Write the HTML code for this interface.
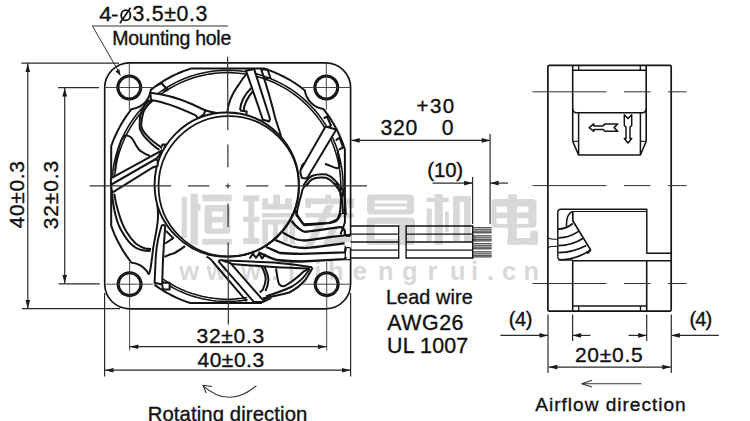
<!DOCTYPE html>
<html><head><meta charset="utf-8"><style>
html,body{margin:0;padding:0;background:#fff;width:750px;height:421px;overflow:hidden}
svg{display:block}
text{font-family:"Liberation Sans",sans-serif}
</style></head><body>
<svg width="750" height="421" viewBox="0 0 750 421">
<rect width="750" height="421" fill="#fff"/>
<rect x="104.7" y="62.9" width="245.9" height="245.9" rx="24.8" ry="24.8" fill="none" stroke="#141414" stroke-width="1.65"/>
<path d="M342.7,143.08 L341.61,140.27 L339.86,136.1 L337.95,131.99 L335.89,127.97 L333.68,124.02 L331.33,120.15 L329.69,117.62 L327.11,113.91 L323.28,108.89 L321.57,108.58 L320.03,108.17 L318.53,107.65 L316.59,106.79 L314.74,105.75 L313.43,104.85 L311.79,103.5 L310.66,102.39 L309.6,101.2 L308.64,99.94 L307.51,98.15 L306.77,96.74 L306.15,95.27 L305.63,93.77 L305.22,92.23 L304.9,90.44 L300.71,87.19 L295.78,83.71 L290.68,80.49 L285.43,77.51 L280.05,74.8 L274.53,72.36 L268.9,70.18 L264.62,68.74 L264.17,68.6 L190.83,68.6 L186.1,70.18 L181.87,71.79 L177.7,73.54 L173.59,75.45 L169.57,77.51 L165.62,79.72 L161.75,82.07 L157.97,84.56 L154.29,87.19 L150.76,89.9 L150.48,91.71 L149.97,93.77 L149.26,95.77 L148.59,97.21 L147.83,98.6 L146.65,100.37 L145.66,101.61 L144.19,103.14 L143,104.2 L141.3,105.46 L139.95,106.29 L138.54,107.03 L136.58,107.84 L135.06,108.32 L133.51,108.68 L131.66,108.97 L129.69,111.48 L127.02,115.13 L124.48,118.88 L121.32,124.02 L119.11,127.97 L117.05,131.99 L114.54,137.48 L112.84,141.67 L111.2,146.17 L111.2,225.63 L112.84,230.13 L114.54,234.32 L117.05,239.81 L119.11,243.83 L121.32,247.78 L124.48,252.92 L127.02,256.67 L130.61,261.51 L131.54,262.69 L134.33,263.12 L136.88,263.86 L139.31,264.91 L140.7,265.67 L142.04,266.54 L144.11,268.2 L145.96,270.09 L147.56,272.2 L148.88,274.46 M154.4,284.69 L159.22,288.09 L163.03,290.53 L166.92,292.83 L170.9,294.99 L176.32,297.64 L180.47,299.44 L184.68,301.1 L190.19,303 L261.96,303 M340.46,234.32 L342.7,228.72 L344.9,222.25 L344.9,149.55 L342.7,143.08" fill="none" stroke="#141414" stroke-width="2.0" stroke-linejoin="round" />
<path d="M343.09,184.48 L342.88,178.81 L342.4,173.16 L341.63,167.54 L340.59,161.96 L339.28,156.44 L337.7,150.99 L335.86,145.62 L333.75,140.35 L332.6,137.76 L330.76,133.92 L328.08,128.92 L325.17,124.05 L322.01,119.34 L318.63,114.78 L315.03,110.39 L311.22,106.19 L307.21,102.18 L303.01,98.37 L298.62,94.77 L294.06,91.39 L289.35,88.23 L284.48,85.32 L279.48,82.64 L274.35,80.22 L269.1,78.05 L263.76,76.13 L261.06,75.28 L256.96,74.12 L251.44,72.81 L245.86,71.77 L240.24,71 L234.59,70.52 L228.92,70.31 L223.25,70.38 L217.58,70.73 L211.94,71.35 L206.34,72.25 L200.79,73.43 L195.3,74.87 L189.89,76.59 L184.58,78.56 L179.36,80.8 L175.52,82.64 L173.01,83.95 L168.07,86.75 L163.28,89.78 L158.64,93.05 L154.16,96.54 L149.87,100.25 L145.76,104.16 L141.85,108.27 L138.14,112.56 L134.65,117.04 L131.38,121.68 L129.08,125.26 L127.62,127.69 L124.89,132.66 L122.4,137.76 L120.16,142.98 L118.19,148.29 L116.47,153.7 L115.03,159.19 L113.85,164.74 L112.9,170.74 L112.9,191.9 M161.37,280.71 L165.65,283.57 L170.52,286.48 L175.52,289.16 L180.65,291.58 L185.9,293.75 L191.24,295.67 L196.67,297.31 L202.17,298.69 L206.34,299.55 L211.94,300.45 L216.17,300.94 L220.73,301.3 L234.59,301.28 L237.42,301.07 L241.65,300.63 L247.56,299.74 M342.57,196.97 L343.02,190.15 L343.09,184.48" fill="none" stroke="#141414" stroke-width="1.55" stroke-linejoin="round" />
<path d="M340.79,184.51 L340.59,178.95 L340.11,173.41 L339.36,167.9 L338.34,162.43 L337.06,157.02 L335.51,151.68 L333.7,146.42 L331.64,141.26 L330.51,138.72 L328.7,134.96 L326.08,130.05 L323.22,125.28 L320.13,120.66 L316.82,116.19 L313.29,111.9 L309.56,107.78 L305.62,103.84 L301.5,100.11 L297.21,96.58 L292.74,93.27 L288.12,90.18 L283.35,87.32 L278.44,84.7 L273.41,82.32 L268.28,80.19 L263.04,78.32 L257.72,76.7 L252.32,75.35 L246.87,74.27 L241.37,73.45 L235.83,72.91 L230.28,72.63 L227.5,72.6 L223.33,72.68 L217.78,73.02 L212.25,73.63 L206.76,74.51 L201.32,75.67 L195.94,77.08 L190.64,78.76 L185.43,80.7 L180.32,82.89 L175.32,85.33 L170.45,88.01 L165.71,90.93 L162.26,93.27 L160.01,94.9 L155.62,98.32 L151.41,101.95 L147.38,105.78 L143.55,109.81 L139.92,114.02 L136.5,118.41 L133.29,122.95 L131.04,126.46 L129.61,128.85 L126.93,133.72 L124.49,138.72 L122.3,143.83 L120.36,149.04 L118.68,154.34 L117.94,157.02 L116.95,161.08 L115.87,166.53 L115.05,172.03 L114.9,173.33 L114.9,191.79 M162.69,278.83 L166.88,281.62 L171.65,284.48 L176.56,287.1 L181.59,289.48 L186.72,291.61 L191.96,293.48 L197.28,295.1 L202.68,296.45 L208.13,297.53 L213.63,298.35 L219.17,298.89 L224.72,299.17 L230.28,299.17 L235.83,298.89 L241.37,298.35 L247.16,297.48 M340.28,196.75 L340.72,190.07 L340.79,184.51" fill="none" stroke="#141414" stroke-width="1.55" stroke-linejoin="round" />
<path d="M126.3,135.3 C129,136 131,137 131.7,138 C133.5,140.5 134.7,142.5 135.7,144.7 C137.5,148 139,150 141,151.3 C144,153.5 147,155 150,156" fill="none" stroke="#141414" stroke-width="2.0" stroke-linejoin="round" />
<path d="M126.3,135.3 C123.5,136 122,138.5 121,141 C119,146.5 117.5,153 116.5,158 C115.8,163 115.4,167 115.2,171" fill="none" stroke="#141414" stroke-width="2.0" stroke-linejoin="round" />
<path d="M149,100.3 C146,103 143.5,106.5 142.4,109.2 C140.8,113 139.8,116.5 139.8,119.6 C139.6,123 139.6,126 139.8,128.8 C141,131.5 142.5,134.3 144.4,136.6 C147,139.5 149.5,142 152.2,144.4 C154.5,146.5 157,148.3 159.4,149.9" fill="none" stroke="#141414" stroke-width="2.0" stroke-linejoin="round" />
<path d="M151.5,100.6 C148,104.5 144.3,108.5 143.1,113.1 C142,117.5 141.3,122 141.1,126.1 C141.8,128.5 143,130.8 144.4,132.7 C147,136 150,139 153.5,141.8 C156,143.8 158.5,145.6 161.4,147.3" fill="none" stroke="#141414" stroke-width="2.0" stroke-linejoin="round" />
<path d="M160.7,148.5 L162.5,144.6 L165.3,144.4 L164.5,148.5" fill="none" stroke="#141414" stroke-width="2.0" stroke-linejoin="round" />
<path d="M204,110 C208.5,111.3 213,112.3 218,113.3" fill="none" stroke="#141414" stroke-width="2.0" stroke-linejoin="round" />
<path d="M227.3,112.7 C228,105 231,95 238.7,84.7 C241,81 243,78 246,74.7" fill="none" stroke="#141414" stroke-width="2.0" stroke-linejoin="round" />
<path d="M240,110 C240.5,104 243,96 251.3,88" fill="none" stroke="#141414" stroke-width="2.0" stroke-linejoin="round" />
<path d="M243.5,111 C244,105 246,99 253.5,90.5" fill="none" stroke="#141414" stroke-width="2.0" stroke-linejoin="round" />
<path d="M240,110.5 L246.7,111.5 L246.5,114" fill="none" stroke="#141414" stroke-width="2.0" stroke-linejoin="round" />
<path d="M261.1,68.9 C266,84 271,100 275.2,118 C278,126 280.5,134 282.3,141" fill="none" stroke="#141414" stroke-width="2.0" stroke-linejoin="round" />
<path d="M301,169.7 C301.5,166 302.5,164.5 303.7,163.7 C305,162.5 307,162.3 309,162.3" fill="none" stroke="#141414" stroke-width="2.0" stroke-linejoin="round" />
<path d="M325,163.7 C330,165.5 334,167.5 337,168.3 L339.7,167 L337.7,149.7" fill="none" stroke="#141414" stroke-width="2.0" stroke-linejoin="round" />
<path d="M309,183 C304,186 301.7,189 301.7,193 L299.7,200.3 C298.5,205 297,210 296.3,215 L303.7,224.3 L327.7,223 C333,222.5 336,221.5 337,220.3 C339,216 340.3,212 340.3,209.7 C341,203 341,199 341,196.3 C340,190 338,186 335.7,183" fill="none" stroke="#141414" stroke-width="2.0" stroke-linejoin="round" />
<path d="M303,186.5 C306,181 309,177 312.5,175.8 C317,174.3 322,174 326.8,174.6 C330.5,176 333.5,178.5 336.3,181.8 C339.5,185.5 341.8,188.5 343.4,191.3 C344.8,197 345.5,205 345.8,215" fill="none" stroke="#141414" stroke-width="2.0" stroke-linejoin="round" />
<path d="M306,186.5 C308.5,182 311,179.5 314,178.5 C318,177.3 322,177.2 326,177.8 C329.5,179 332,181 334.5,184 C337.5,187.5 339.6,190.5 341,193.5 C342.2,199 342.8,206 343,214" fill="none" stroke="#141414" stroke-width="2.0" stroke-linejoin="round" />
<path d="M112,193.9 C112.5,200 113.5,206 114.7,211.7 C116.5,220 118.5,226 121.8,231.3 C124.5,236 127,240 130.7,243.8 C134,247 137.5,249.2 141.4,250 C144.5,250.6 147.5,250.9 150.5,250.9" fill="none" stroke="#141414" stroke-width="2.0" stroke-linejoin="round" />
<path d="M114.2,193.6 C115.2,200 116.5,206 118.3,211.7 C120.3,219 122.8,225.5 126.3,231.5 C129,236 132.5,240.5 136,243.8 C139.5,246.5 142.5,247.8 145.5,248.5 C147.5,248.9 149.5,249 151,249" fill="none" stroke="#141414" stroke-width="2.0" stroke-linejoin="round" />
<path d="M157.3,204 C158.2,211 158.2,217 157.6,222.5 C156.8,229 155.8,234.5 154.9,238.6 C153.8,244 152.8,250 152.2,256.4 C151.5,262 151,266 150.5,268.5 C150,271 149.5,273 148.8,274.5" fill="none" stroke="#141414" stroke-width="2.0" stroke-linejoin="round" />
<path d="M166.1,231 L173.3,238.1 L165.2,243.5" fill="none" stroke="#141414" stroke-width="2.0" stroke-linejoin="round" />
<path d="M164.4,256.8 C168,255 171,254 174.1,253.3 C178,251 182,248.5 185,246.1" fill="none" stroke="#141414" stroke-width="2.0" stroke-linejoin="round" />
<path d="M206.6,256.6 C210,258.5 212,260 213,262 L246.7,301.3" fill="none" stroke="#141414" stroke-width="2.0" stroke-linejoin="round" />
<path d="M219.4,261.1 C221,260.5 222.5,260.4 223.8,260.4 C240,261 258,261.8 273.7,262.6 C288,263.8 300,265.3 312.2,267.2" fill="none" stroke="#141414" stroke-width="2.0" stroke-linejoin="round" />
<path d="M231.1,264.1 C245,265 260,266 273.7,267 C288,267.8 300,268.2 310,268.5" fill="none" stroke="#141414" stroke-width="2.0" stroke-linejoin="round" />
<path d="M276,268.3 C277,274 277.5,280 278.9,283.7 C280,285.5 282,286.5 284.8,286 C292,282 299,276 303.9,271.3 L309.7,268.3" fill="none" stroke="#141414" stroke-width="2.0" stroke-linejoin="round" />
<path d="M262.8,298.4 C272,296.5 281,295 289.2,292.5 C296,289 301,285 305.3,280 C308,276 310.5,272 312.7,267.6" fill="none" stroke="#141414" stroke-width="2.0" stroke-linejoin="round" />
<path d="M266,296.2 C275,293.5 284,290.5 292,286.5 C298,283 303,278.5 306.5,273.5 C308,271.5 309,270 310,268.6" fill="none" stroke="#141414" stroke-width="2.0" stroke-linejoin="round" />
<path d="M261.3,266.1 C263.5,270 265.7,275 265.7,279.3 C265.5,284 264,287 262.8,289.6 L259.9,292.5" fill="none" stroke="#141414" stroke-width="2.0" stroke-linejoin="round" />
<path d="M264.3,266.5 C266.5,271 268.4,276 268.4,280 C268.2,285 267,288 265.5,291" fill="none" stroke="#141414" stroke-width="2.0" stroke-linejoin="round" />
<path d="M249.6,258.5 L253,253.8 L256,257.8 L259,253.7 L262,258.5 L265.7,254" fill="none" stroke="#141414" stroke-width="2.0" stroke-linejoin="round" />
<path d="M155.7,86.2 L161.5,83.2 L167.7,89.8 L163.5,91.5" fill="none" stroke="#141414" stroke-width="2.0" stroke-linejoin="round" />
<path d="M261.3,69.5 L267.5,69.5 L270.5,78 L265,78.5" fill="none" stroke="#141414" stroke-width="2.0" stroke-linejoin="round" />
<path d="M323.7,118.3 L327,116.5 L331,125.5 L327.7,127.7" fill="none" stroke="#141414" stroke-width="2.0" stroke-linejoin="round" />
<path d="M335.7,140.3 L339.7,137.7 L343,147.5 L339,149.7" fill="none" stroke="#141414" stroke-width="2.0" stroke-linejoin="round" />
<circle cx="226.75" cy="184.65" r="72.15" fill="#fff" stroke="#141414" stroke-width="1.95"/>
<circle cx="228.75" cy="186.2" r="70.2" fill="none" stroke="#141414" stroke-width="1.75"/>
<path d="M150.3,92.7 C164,94 178,98 191.7,104 L205.5,110.5 L203.7,114.5 L198,118.3 L195.7,115.3 C182,109 166,102 151,100 Z" fill="#fff" stroke="#141414" stroke-width="2.0" stroke-linejoin="round" />
<path d="M246,70.7 L254.1,68.9 L269.9,118.5 L269.2,121.5 L262.3,119.5 L262.3,118 Z" fill="#fff" stroke="#141414" stroke-width="2.0" stroke-linejoin="round" />
<path d="M325.6,126.6 L336.3,129.5 L307.8,177 L306.5,178.6 L302,178 L300.3,173 L300.6,170 Z" fill="#fff" stroke="#141414" stroke-width="2.0" stroke-linejoin="round" />
<path d="M110.9,178.3 L162.5,150.2 L157.5,157.5 L155.3,159.4 L110.9,184.8 Z" fill="#fff" stroke="#141414" stroke-width="2.0" stroke-linejoin="round" />
<path d="M110.9,184.8 L155.3,159.4 L157.9,160.5 L157.5,166 L153.3,167.2 L112.2,192.7 Z" fill="#fff" stroke="#141414" stroke-width="2.0" stroke-linejoin="round" />
<path d="M161.7,225.7 C162.5,224.5 164.5,224.5 165.2,226.6 C164.3,238 163.5,250 162.9,262 L162.2,282.8 L169.6,282.8 L169.6,289.4 L163,289.4 L162.1,284.4 L154.6,282.8 L155.5,262 C156,250 157.5,238 161.7,225.7 Z" fill="#fff" stroke="#141414" stroke-width="2.0" stroke-linejoin="round" />
<path d="M218.8,261.7 C219,260 221,259.8 222,260.3 L230.5,263.2 L262.8,299.9 L270.1,296 L270.5,298.4 L262.8,302.1 L254,302.1 Z" fill="#fff" stroke="#141414" stroke-width="2.0" stroke-linejoin="round" />
<path d="M295.7,210 L296.7,214.3 C299,218 301.5,222 304.2,225 C312,224.5 322,223.8 329.9,222.8 C333,221.5 336,220.5 338.4,218.6 L341,213" fill="none" stroke="#141414" stroke-width="2.3" stroke-linejoin="round" />
<path d="M291.4,220.7 C294,224 297,227.5 300,229.3 C302,230.8 303.5,231.9 305.3,231.9 C318,230.5 330,228.5 339.5,227.1 C342,227 344,228 344.9,231.4 L344.9,236" fill="none" stroke="#141414" stroke-width="2.3" stroke-linejoin="round" />
<path d="M282.8,232.5 C287,235 292,238 297,239.5 C300,240.3 302.5,240.5 305.3,240.5 C320,239 333,236 350.5,234.8" fill="none" stroke="#141414" stroke-width="2.3" stroke-linejoin="round" />
<path d="M275.3,240 C280,242 285,244.5 292,246.5 C297,247.6 301,248 305.3,248 C320,247 333,244.5 350.5,242.6" fill="none" stroke="#141414" stroke-width="2.3" stroke-linejoin="round" />
<path d="M266,247 C271,249 276,251.5 279.9,253 C286,253.6 293,253.8 301.3,253.8 C318,253.3 332,252.8 344.3,252.3 C345.5,251.5 345.8,249 345.8,246.1" fill="none" stroke="#141414" stroke-width="2.3" stroke-linejoin="round" />
<path d="M258.4,252.3 C264,255 270,258 276.8,260 C285,261 293,261.5 301.3,261.5 C318,260.8 332,260 344.3,259.2 C345.5,258.5 345.8,257.5 345.8,256.9" fill="none" stroke="#141414" stroke-width="2.3" stroke-linejoin="round" />
<rect x="344.6" y="236" width="6.6" height="12" fill="#fff"/>
<line x1="345.3" y1="236.2" x2="350.5" y2="236.2" stroke="#141414" stroke-width="1.2" />
<line x1="345.3" y1="247.6" x2="350.5" y2="247.6" stroke="#141414" stroke-width="1.2" />
<line x1="345.3" y1="245.8" x2="345.3" y2="259.7" stroke="#141414" stroke-width="1.3" />
<line x1="345.3" y1="259.7" x2="350.5" y2="259.7" stroke="#141414" stroke-width="1.2" />
<circle cx="129.3" cy="87.5" r="12.05" fill="none" stroke="#141414" stroke-width="1.85"/>
<circle cx="129.3" cy="87.5" r="10.7" fill="none" stroke="#141414" stroke-width="1.6"/>
<circle cx="326.3" cy="87.5" r="12.05" fill="none" stroke="#141414" stroke-width="1.85"/>
<circle cx="326.3" cy="87.5" r="10.7" fill="none" stroke="#141414" stroke-width="1.6"/>
<circle cx="129.6" cy="284.2" r="12.05" fill="none" stroke="#141414" stroke-width="1.85"/>
<circle cx="129.6" cy="284.2" r="10.7" fill="none" stroke="#141414" stroke-width="1.6"/>
<circle cx="326.7" cy="284.2" r="12.05" fill="none" stroke="#141414" stroke-width="1.85"/>
<circle cx="326.7" cy="284.2" r="10.7" fill="none" stroke="#141414" stroke-width="1.6"/>
<line x1="227.6" y1="56.7" x2="227.82" y2="130" stroke="#333" stroke-width="1.2" />
<line x1="227.86" y1="144.4" x2="227.93" y2="167.2" stroke="#333" stroke-width="1.2" />
<line x1="228.04" y1="203.5" x2="228.11" y2="227" stroke="#333" stroke-width="1.2" />
<line x1="228.15" y1="242.5" x2="228.4" y2="324.6" stroke="#333" stroke-width="1.2" />
<line x1="89.6" y1="185.9" x2="171.3" y2="185.9" stroke="#333" stroke-width="1.2" />
<line x1="187.8" y1="185.9" x2="209.4" y2="185.9" stroke="#333" stroke-width="1.2" />
<line x1="246" y1="185.9" x2="268.4" y2="185.9" stroke="#333" stroke-width="1.2" />
<line x1="285" y1="185.9" x2="367" y2="185.9" stroke="#333" stroke-width="1.2" />
<line x1="225.4" y1="185.9" x2="230.4" y2="185.9" stroke="#333" stroke-width="1.2" />
<line x1="227.9" y1="183.4" x2="227.9" y2="188.4" stroke="#333" stroke-width="1.2" />
<line x1="105.8" y1="87.5" x2="152.8" y2="87.5" stroke="#333" stroke-width="0.9" />
<line x1="129.3" y1="63" x2="129.3" y2="110" stroke="#333" stroke-width="0.9" />
<line x1="302.8" y1="87.5" x2="349.8" y2="87.5" stroke="#333" stroke-width="0.9" />
<line x1="326.3" y1="63" x2="326.3" y2="110" stroke="#333" stroke-width="0.9" />
<line x1="106.1" y1="284.2" x2="153.1" y2="284.2" stroke="#333" stroke-width="0.9" />
<line x1="129.6" y1="262" x2="129.6" y2="350.5" stroke="#333" stroke-width="0.9" />
<line x1="303.2" y1="284.2" x2="350.2" y2="284.2" stroke="#333" stroke-width="0.9" />
<line x1="326.7" y1="262" x2="326.7" y2="350.5" stroke="#333" stroke-width="0.9" />
<line x1="21.4" y1="63.2" x2="119" y2="63.2" stroke="#2a2a2a" stroke-width="1.2" />
<line x1="58" y1="87.7" x2="99" y2="87.7" stroke="#2a2a2a" stroke-width="1.2" />
<line x1="58.6" y1="283.8" x2="99.6" y2="283.8" stroke="#2a2a2a" stroke-width="1.2" />
<line x1="22" y1="308.6" x2="120" y2="308.6" stroke="#2a2a2a" stroke-width="1.2" />
<line x1="27.8" y1="63.2" x2="27.8" y2="308.6" stroke="#2a2a2a" stroke-width="1.2" />
<path d="M27.8,63.4 L30.1,71.9 L25.5,71.9Z" fill="#1a1a1a"/>
<path d="M27.8,308.4 L25.5,299.9 L30.1,299.9Z" fill="#1a1a1a"/>
<line x1="64.7" y1="87.7" x2="64.7" y2="283.8" stroke="#2a2a2a" stroke-width="1.2" />
<path d="M64.7,87.9 L67,96.4 L62.4,96.4Z" fill="#1a1a1a"/>
<path d="M64.7,283.6 L62.4,275.1 L67,275.1Z" fill="#1a1a1a"/>
<line x1="104.6" y1="293" x2="104.6" y2="376.5" stroke="#2a2a2a" stroke-width="1.2" />
<line x1="350.6" y1="293" x2="350.6" y2="376.5" stroke="#2a2a2a" stroke-width="1.2" />
<line x1="105" y1="370.2" x2="350.5" y2="370.2" stroke="#2a2a2a" stroke-width="1.2" />
<path d="M105,370.2 L113.5,367.9 L113.5,372.5Z" fill="#1a1a1a"/>
<path d="M350.5,370.2 L342,372.5 L342,367.9Z" fill="#1a1a1a"/>
<line x1="129.6" y1="346.7" x2="326.7" y2="346.7" stroke="#2a2a2a" stroke-width="1.2" />
<path d="M129.8,346.7 L138.3,344.4 L138.3,349Z" fill="#1a1a1a"/>
<path d="M326.5,346.7 L318,349 L318,344.4Z" fill="#1a1a1a"/>
<path d="M256.4,385.6 Q229,409 202.9,385.6" fill="none" stroke="#333" stroke-width="1.1" stroke-linejoin="round" />
<path d="M212,386.5 L202.9,385.3 L206.2,393" fill="none" stroke="#333" stroke-width="1.1" stroke-linejoin="round" />
<line x1="92" y1="26" x2="228" y2="26" stroke="#333" stroke-width="1.1" />
<line x1="92.5" y1="26.2" x2="119.5" y2="73" stroke="#333" stroke-width="1.0" />
<path d="M120.8,76.2 L115.4,71.23 L119.22,69.03Z" fill="#1a1a1a"/>
<line x1="350.5" y1="226" x2="398.7" y2="226" stroke="#141414" stroke-width="1.4" />
<line x1="406.1" y1="226" x2="472.7" y2="226" stroke="#141414" stroke-width="1.4" />
<line x1="350.5" y1="234.1" x2="398.7" y2="234.1" stroke="#141414" stroke-width="1.4" />
<line x1="406.1" y1="234.1" x2="472.7" y2="234.1" stroke="#141414" stroke-width="1.4" />
<line x1="350.5" y1="242" x2="398.7" y2="242" stroke="#141414" stroke-width="1.4" />
<line x1="406.1" y1="242" x2="472.7" y2="242" stroke="#141414" stroke-width="1.4" />
<line x1="350.5" y1="250.1" x2="398.7" y2="250.1" stroke="#141414" stroke-width="1.4" />
<line x1="406.1" y1="250.1" x2="472.7" y2="250.1" stroke="#141414" stroke-width="1.4" />
<line x1="350.5" y1="258" x2="398.7" y2="258" stroke="#141414" stroke-width="1.4" />
<line x1="406.1" y1="258" x2="472.7" y2="258" stroke="#141414" stroke-width="1.4" />
<line x1="398.7" y1="225.3" x2="398.7" y2="258.7" stroke="#141414" stroke-width="1.4" />
<line x1="406.1" y1="225.3" x2="406.1" y2="258.7" stroke="#141414" stroke-width="1.4" />
<line x1="472.7" y1="225.3" x2="472.7" y2="258.7" stroke="#141414" stroke-width="1.4" />
<line x1="472.7" y1="227.8" x2="491.7" y2="227.8" stroke="#111" stroke-width="1.0" />
<line x1="472.7" y1="229.5" x2="491.7" y2="229.5" stroke="#666" stroke-width="1.0" />
<line x1="472.7" y1="231.1" x2="491.7" y2="231.1" stroke="#111" stroke-width="1.0" />
<line x1="472.7" y1="232.8" x2="491.7" y2="232.8" stroke="#111" stroke-width="1.0" />
<line x1="472.7" y1="235.9" x2="491.7" y2="235.9" stroke="#111" stroke-width="1.0" />
<line x1="472.7" y1="237.6" x2="491.7" y2="237.6" stroke="#666" stroke-width="1.0" />
<line x1="472.7" y1="239.2" x2="491.7" y2="239.2" stroke="#111" stroke-width="1.0" />
<line x1="472.7" y1="240.9" x2="491.7" y2="240.9" stroke="#111" stroke-width="1.0" />
<line x1="472.7" y1="243.8" x2="491.7" y2="243.8" stroke="#111" stroke-width="1.0" />
<line x1="472.7" y1="245.5" x2="491.7" y2="245.5" stroke="#666" stroke-width="1.0" />
<line x1="472.7" y1="247.1" x2="491.7" y2="247.1" stroke="#111" stroke-width="1.0" />
<line x1="472.7" y1="248.8" x2="491.7" y2="248.8" stroke="#111" stroke-width="1.0" />
<line x1="472.7" y1="251.9" x2="491.7" y2="251.9" stroke="#111" stroke-width="1.0" />
<line x1="472.7" y1="253.6" x2="491.7" y2="253.6" stroke="#666" stroke-width="1.0" />
<line x1="472.7" y1="255.2" x2="491.7" y2="255.2" stroke="#111" stroke-width="1.0" />
<line x1="472.7" y1="256.9" x2="491.7" y2="256.9" stroke="#111" stroke-width="1.0" />
<line x1="351.4" y1="140.4" x2="490" y2="140.4" stroke="#2a2a2a" stroke-width="1.2" />
<path d="M351.2,140.4 L359.7,138.1 L359.7,142.7Z" fill="#1a1a1a"/>
<path d="M490.2,140.4 L481.7,142.7 L481.7,138.1Z" fill="#1a1a1a"/>
<line x1="490.1" y1="134" x2="490.1" y2="224" stroke="#2a2a2a" stroke-width="1.2" />
<line x1="472.6" y1="177" x2="472.6" y2="224" stroke="#2a2a2a" stroke-width="1.2" />
<line x1="432.6" y1="183.1" x2="472.6" y2="183.1" stroke="#2a2a2a" stroke-width="1.2" />
<path d="M472.6,183.1 L464.1,185.4 L464.1,180.8Z" fill="#1a1a1a"/>
<line x1="490.1" y1="183.1" x2="508" y2="183.1" stroke="#2a2a2a" stroke-width="1.2" />
<path d="M490.1,183.1 L498.6,180.8 L498.6,185.4Z" fill="#1a1a1a"/>
<rect x="547.9" y="65.3" width="123.3" height="245.9" rx="1.5" fill="none" stroke="#141414" stroke-width="1.7"/>
<line x1="572.7" y1="65.3" x2="572.7" y2="141.3" stroke="#141414" stroke-width="1.6" />
<line x1="646.2" y1="65.3" x2="646.2" y2="141.3" stroke="#141414" stroke-width="1.6" />
<line x1="572.7" y1="141.3" x2="578.6" y2="141.3" stroke="#141414" stroke-width="1.1" />
<line x1="640.4" y1="141.3" x2="646.2" y2="141.3" stroke="#141414" stroke-width="1.1" />
<line x1="578.7" y1="65.3" x2="578.7" y2="70.3" stroke="#141414" stroke-width="1.3" />
<line x1="640.3" y1="65.3" x2="640.3" y2="70.3" stroke="#141414" stroke-width="1.3" />
<line x1="572.7" y1="70.3" x2="646.2" y2="70.3" stroke="#141414" stroke-width="1.6" />
<path d="M572.7,108.5 Q572.7,112.8 577,112.8 L641.9,112.8 Q646.2,112.8 646.2,108.5" fill="none" stroke="#141414" stroke-width="1.6" stroke-linejoin="round" />
<line x1="578.6" y1="112.8" x2="578.6" y2="155" stroke="#141414" stroke-width="1.5" />
<line x1="640.4" y1="112.8" x2="640.4" y2="155" stroke="#141414" stroke-width="1.5" />
<path d="M572.7,141.3 L578.6,155 L640.4,155 L646.2,141.3" fill="none" stroke="#141414" stroke-width="1.6" stroke-linejoin="round" />
<path d="M589.2,127.6 L593.8,123.9 L593.8,125.9 L603,125.9 L605,123.9 L617.8,123.9 L614,127.6 L617.8,131.3 L605,131.3 L603,129.4 L593.8,129.4 L593.8,131.3 Z" fill="none" stroke="#141414" stroke-width="1.5" stroke-linejoin="round" />
<path d="M628,143 L624.3,138.5 L626,138.5 L626,127 L624.3,125.5 L624.3,114.8 L628,118.6 L631.7,114.8 L631.7,125.5 L630,127 L630,138.5 L631.7,138.5 Z" fill="none" stroke="#141414" stroke-width="1.5" stroke-linejoin="round" />
<path d="M557.8,256.5 L557.8,212.5 Q557.8,209.3 561,209.3 L646.8,209.3 L646.8,253.2 L671.2,253.2" fill="none" stroke="#141414" stroke-width="1.45" stroke-linejoin="round" />
<path d="M557.8,256.5 Q557.8,259.9 561,259.9 L572.8,259.9" fill="none" stroke="#141414" stroke-width="1.45" stroke-linejoin="round" />
<line x1="572" y1="211.5" x2="646.8" y2="211.5" stroke="#141414" stroke-width="1.1" />
<line x1="572.8" y1="260.7" x2="671.2" y2="260.7" stroke="#141414" stroke-width="1.6" />
<path d="M566.4,226.4 C566.3,219 568,213 572.8,211.6" fill="none" stroke="#141414" stroke-width="1.6" stroke-linejoin="round" />
<path d="M572.8,211.6 L572.8,220.7 L590.6,249.9 C589.5,251.5 588.5,252.5 587,253.5" fill="none" stroke="#141414" stroke-width="1.7" stroke-linejoin="round" />
<path d="M557.8,229.2 C563,229 568,227.5 572.8,223.5" fill="none" stroke="#141414" stroke-width="1.7" stroke-linejoin="round" />
<path d="M558.5,237.8 C565,237.8 572,236 578.5,231.4" fill="none" stroke="#141414" stroke-width="1.7" stroke-linejoin="round" />
<path d="M558.5,245.6 C566,245.4 575,243.5 582.8,238.5" fill="none" stroke="#141414" stroke-width="1.7" stroke-linejoin="round" />
<path d="M558.5,252.7 C567,252.6 577,250.5 586.3,245.6" fill="none" stroke="#141414" stroke-width="1.7" stroke-linejoin="round" />
<path d="M558.5,259.9 C568,259.8 580,257.5 590.6,249.9" fill="none" stroke="#141414" stroke-width="1.7" stroke-linejoin="round" />
<path d="M547.9,238 C550,239.3 553,239.3 557.8,239.3" fill="none" stroke="#141414" stroke-width="1.1" stroke-linejoin="round" />
<path d="M547.9,247.5 C550,246.3 553,246.3 557.8,246.3" fill="none" stroke="#141414" stroke-width="1.1" stroke-linejoin="round" />
<line x1="572.7" y1="260.7" x2="572.7" y2="311.2" stroke="#141414" stroke-width="1.6" />
<line x1="646.7" y1="260.7" x2="646.7" y2="311.2" stroke="#141414" stroke-width="1.6" />
<line x1="572.7" y1="306" x2="646.7" y2="306" stroke="#141414" stroke-width="1.6" />
<line x1="578.7" y1="306" x2="578.7" y2="311.2" stroke="#141414" stroke-width="1.3" />
<line x1="640.5" y1="306" x2="640.5" y2="311.2" stroke="#141414" stroke-width="1.3" />
<line x1="532.5" y1="91.8" x2="606.5" y2="91.8" stroke="#333" stroke-width="1.0" />
<line x1="624" y1="91.8" x2="650.5" y2="91.8" stroke="#333" stroke-width="1.0" />
<line x1="668" y1="91.8" x2="686.7" y2="91.8" stroke="#333" stroke-width="1.0" />
<line x1="532.5" y1="185.6" x2="606.5" y2="185.6" stroke="#333" stroke-width="1.0" />
<line x1="624" y1="185.6" x2="650.5" y2="185.6" stroke="#333" stroke-width="1.0" />
<line x1="668" y1="185.6" x2="686.7" y2="185.6" stroke="#333" stroke-width="1.0" />
<line x1="532.5" y1="283.5" x2="606.5" y2="283.5" stroke="#333" stroke-width="1.0" />
<line x1="624" y1="283.5" x2="650.5" y2="283.5" stroke="#333" stroke-width="1.0" />
<line x1="668" y1="283.5" x2="686.7" y2="283.5" stroke="#333" stroke-width="1.0" />
<line x1="548" y1="314.5" x2="548" y2="373" stroke="#2a2a2a" stroke-width="1.2" />
<line x1="671.3" y1="314.5" x2="671.3" y2="373" stroke="#2a2a2a" stroke-width="1.2" />
<line x1="572.6" y1="314.5" x2="572.6" y2="341" stroke="#2a2a2a" stroke-width="1.2" />
<line x1="646.7" y1="314.5" x2="646.7" y2="341" stroke="#2a2a2a" stroke-width="1.2" />
<line x1="500.4" y1="335.4" x2="548" y2="335.4" stroke="#2a2a2a" stroke-width="1.2" />
<path d="M548,335.4 L539.5,337.7 L539.5,333.1Z" fill="#1a1a1a"/>
<line x1="572.6" y1="335.4" x2="590.5" y2="335.4" stroke="#2a2a2a" stroke-width="1.2" />
<path d="M572.6,335.4 L581.1,333.1 L581.1,337.7Z" fill="#1a1a1a"/>
<line x1="628.6" y1="335.4" x2="646.7" y2="335.4" stroke="#2a2a2a" stroke-width="1.2" />
<path d="M646.7,335.4 L638.2,337.7 L638.2,333.1Z" fill="#1a1a1a"/>
<line x1="671.3" y1="335.4" x2="718.8" y2="335.4" stroke="#2a2a2a" stroke-width="1.2" />
<path d="M671.3,335.4 L679.8,333.1 L679.8,337.7Z" fill="#1a1a1a"/>
<line x1="548.8" y1="367.1" x2="670.8" y2="367.1" stroke="#2a2a2a" stroke-width="1.2" />
<path d="M548.8,367.1 L557.3,364.8 L557.3,369.4Z" fill="#1a1a1a"/>
<path d="M670.8,367.1 L662.3,369.4 L662.3,364.8Z" fill="#1a1a1a"/>
<line x1="581.8" y1="383.7" x2="641.4" y2="383.7" stroke="#333" stroke-width="1.1" />
<path d="M591.9,380.3 L581.8,383.7 L591.9,387" fill="none" stroke="#333" stroke-width="1.1" stroke-linejoin="round" />
<text x="99.3" y="21" font-size="20.5" fill="#111" stroke="#111" stroke-width="0.35" textLength="12.4" lengthAdjust="spacingAndGlyphs" text-anchor="start" >4</text>
<rect x="111.9" y="14.5" width="5.8" height="2.0" fill="#111"/>
<ellipse cx="125.8" cy="15.2" rx="4.6" ry="5.1" fill="none" stroke="#111" stroke-width="1.85"/>
<line x1="119.9" y1="23.3" x2="130.5" y2="7.7" stroke="#111" stroke-width="1.6"/>
<text x="132.6" y="21.0" font-size="21.3" fill="#111" stroke="#111" stroke-width="0.35" textLength="74.87" lengthAdjust="spacing">3.5±0.3</text>
<text x="112.3" y="44.8" font-size="19.5" fill="#111" stroke="#111" stroke-width="0.35" textLength="118.94" lengthAdjust="spacing">Mounting hole</text>
<text x="416.5" y="113.2" font-size="20.5" fill="#111" stroke="#111" stroke-width="0.35" textLength="37.63" lengthAdjust="spacing">+30</text>
<text x="380.5" y="135.0" font-size="21.2" fill="#111" stroke="#111" stroke-width="0.35" textLength="36.86" lengthAdjust="spacing">320</text>
<text x="441.8" y="135.0" font-size="21.2" fill="#111" stroke="#111" stroke-width="0.35" textLength="11.4" lengthAdjust="spacing">0</text>
<text x="427.3" y="176.9" font-size="20.4" fill="#111" stroke="#111" stroke-width="0.35" textLength="35.87" lengthAdjust="spacing">(10)</text>
<text x="385.9" y="303.6" font-size="19.8" fill="#111" stroke="#111" stroke-width="0.35" textLength="86.91" lengthAdjust="spacing">Lead wire</text>
<text x="387.3" y="329.7" font-size="21.4" fill="#111" stroke="#111" stroke-width="0.35" textLength="76.23" lengthAdjust="spacing">AWG26</text>
<text x="387.0" y="352.6" font-size="21.4" fill="#111" stroke="#111" stroke-width="0.35" textLength="81.26" lengthAdjust="spacing">UL 1007</text>
<text x="508.8" y="325.5" font-size="20.1" fill="#111" stroke="#111" stroke-width="0.35" textLength="23.66" lengthAdjust="spacing">(4)</text>
<text x="689.4" y="325.5" font-size="20.1" fill="#111" stroke="#111" stroke-width="0.35" textLength="22.76" lengthAdjust="spacing">(4)</text>
<text x="574.9" y="361.9" font-size="21.0" fill="#111" stroke="#111" stroke-width="0.35" textLength="67.8" lengthAdjust="spacing">20±0.5</text>
<text x="535.3" y="410.9" font-size="19.1" fill="#111" stroke="#111" stroke-width="0.35" textLength="150.4" lengthAdjust="spacing">Airflow direction</text>
<text x="196.5" y="343.4" font-size="21.0" fill="#111" stroke="#111" stroke-width="0.35" textLength="67.8" lengthAdjust="spacing">32±0.3</text>
<text x="197.5" y="367.4" font-size="21.0" fill="#111" stroke="#111" stroke-width="0.35" textLength="66.6" lengthAdjust="spacing">40±0.3</text>
<text x="147.7" y="421.4" font-size="20.3" fill="#111" stroke="#111" stroke-width="0.35" textLength="159.64" lengthAdjust="spacing">Rotating direction</text>
<g transform="translate(24.2,228.2) rotate(-90)">
<text x="0" y="0" font-size="21.0" fill="#111" stroke="#111" stroke-width="0.35" textLength="67.08" lengthAdjust="spacing">40±0.3</text>
</g>
<g transform="translate(58.0,229.2) rotate(-90)">
<text x="0" y="0" font-size="21.0" fill="#111" stroke="#111" stroke-width="0.35" textLength="68.28" lengthAdjust="spacing">32±0.3</text>
</g>
<g opacity="0.148"><rect x="181.7" y="196.8" width="5.1" height="41.2" rx="0" fill="#000"/>
<rect x="190.5" y="193.9" width="7.4" height="50.8" rx="0" fill="#000"/>
<rect x="197.5" y="204.2" width="3.1" height="6.6" rx="0" fill="#000"/>
<rect x="202.3" y="194.6" width="29.5" height="6.7" rx="0" fill="#000"/>
<rect x="202.3" y="238.8" width="29.5" height="5.9" rx="0" fill="#000"/>
<path d="M207.5,205 H227.3 Q230.3,205 230.3,208 V230.7 Q230.3,233.7 227.3,233.7 H207.5 Q204.5,233.7 204.5,230.7 V208 Q204.5,205 207.5,205Z M211.9,211.6 V216.7 H222.9 V211.6Z M211.9,222.6 V228.5 H222.9 V222.6Z" fill="#000" fill-rule="evenodd"/>
<rect x="243.2" y="195.4" width="16.2" height="5.9" rx="0" fill="#000"/>
<rect x="248.3" y="195.4" width="5.9" height="45.6" rx="0" fill="#000"/>
<rect x="243.2" y="216.7" width="16.2" height="5.2" rx="0" fill="#000"/>
<rect x="243.2" y="238" width="16.2" height="6" rx="0" fill="#000"/>
<rect x="262.3" y="198.3" width="5.7" height="11.1" rx="0" fill="#000"/>
<rect x="273.3" y="194.6" width="6.7" height="14.8" rx="0" fill="#000"/>
<rect x="285.1" y="198.3" width="6.7" height="11.1" rx="0" fill="#000"/>
<rect x="262.3" y="203.8" width="29.5" height="5.6" rx="0" fill="#000"/>
<rect x="262.3" y="213" width="32.7" height="4.5" rx="0" fill="#000"/>
<rect x="262.3" y="219.5" width="5.7" height="25" rx="0" fill="#000"/>
<rect x="289.5" y="219.5" width="5.5" height="25" rx="0" fill="#000"/>
<rect x="262.3" y="219.5" width="32.7" height="5" rx="0" fill="#000"/>
<rect x="273" y="224" width="5" height="18" rx="0" fill="#000"/>
<rect x="283" y="224" width="5" height="18" rx="0" fill="#000"/>
<rect x="325.2" y="194.6" width="5.9" height="4.4" rx="0" fill="#000"/>
<rect x="305.4" y="198.3" width="48.6" height="5.9" rx="0" fill="#000"/>
<rect x="305.4" y="198.3" width="5.6" height="9.7" rx="0" fill="#000"/>
<rect x="348.5" y="198.3" width="5.5" height="9.7" rx="0" fill="#000"/>
<rect x="305.4" y="213" width="48.6" height="4.5" rx="0" fill="#000"/>
<path d="M326,205 L334,205 L313,246 L305,246Z" fill="#000"/>
<path d="M330,228 L338,228 L332,239 L350,235.5 L351.5,241.5 L322,246.5Z" fill="#000"/>
<path d="M371,194.5 H410 Q414,194.5 414,198.5 V210.5 Q414,214.5 410,214.5 H371 Q367,214.5 367,210.5 V198.5 Q367,194.5 371,194.5Z M374.7,200.5 V203.5 H407 V200.5Z M374.7,206.4 V209.4 H407 V206.4Z" fill="#000" fill-rule="evenodd"/>
<path d="M370.5,217.5 H411 Q415,217.5 415,221.5 V241 Q415,245 411,245 H370.5 Q366.5,245 366.5,241 V221.5 Q366.5,217.5 370.5,217.5Z M374.5,224 V239 H400 V224Z" fill="#000" fill-rule="evenodd"/>
<path d="M398,222 L406,222 L414,245 L405,245Z" fill="#000"/>
<rect x="426.6" y="197.6" width="22.1" height="4.4" rx="0" fill="#000"/>
<rect x="434.7" y="194" width="8.1" height="51" rx="0" fill="#000"/>
<rect x="426.6" y="208.6" width="5.2" height="32.4" rx="0" fill="#000"/>
<rect x="445" y="211.6" width="3.7" height="20.6" rx="0" fill="#000"/>
<rect x="453" y="196" width="6.8" height="45" rx="2" fill="#000"/>
<rect x="453" y="196" width="17.8" height="6" rx="2" fill="#000"/>
<rect x="464" y="196" width="6.8" height="40" rx="2" fill="#000"/>
<rect x="464" y="236" width="12" height="6" rx="0" fill="#000"/>
<path d="M495.6,199 H532.5 Q536.5,199 536.5,203 V223.8 Q536.5,227.8 532.5,227.8 H495.6 Q491.6,227.8 491.6,223.8 V203 Q491.6,199 495.6,199Z M496.5,206.5 V212.5 H507.1 V206.5Z M516.7,206.5 V212.5 H528.4 V206.5Z M496.5,218.2 V224 H507.1 V218.2Z M516.7,218.2 V224 H528.4 V218.2Z" fill="#000" fill-rule="evenodd"/>
<rect x="508" y="194.2" width="8.8" height="50.5" rx="1.5" fill="#000"/>
<rect x="507.1" y="238" width="30.9" height="6.7" rx="2" fill="#000"/>
<rect x="530" y="230.7" width="8" height="14" rx="2" fill="#000"/>
<text x="179.3" y="280.3" font-size="25.5" font-weight="bold" fill="#000">w</text>
<text x="206.5" y="280.3" font-size="25.5" font-weight="bold" fill="#000">w</text>
<text x="240.9" y="280.3" font-size="25.5" font-weight="bold" fill="#000">w</text>
<text x="270.9" y="280.3" font-size="25.5" font-weight="bold" fill="#000">.</text>
<text x="287.9" y="280.3" font-size="25.5" font-weight="bold" fill="#000">l</text>
<text x="314.2" y="280.3" font-size="25.5" font-weight="bold" fill="#000">i</text>
<text x="328.1" y="280.3" font-size="25.5" font-weight="bold" fill="#000">h</text>
<text x="352.7" y="280.3" font-size="25.5" font-weight="bold" fill="#000">e</text>
<text x="378" y="280.3" font-size="25.5" font-weight="bold" fill="#000">n</text>
<text x="402" y="280.3" font-size="25.5" font-weight="bold" fill="#000">g</text>
<text x="427.4" y="280.3" font-size="25.5" font-weight="bold" fill="#000">r</text>
<text x="450" y="280.3" font-size="25.5" font-weight="bold" fill="#000">u</text>
<text x="471.1" y="280.3" font-size="25.5" font-weight="bold" fill="#000">i</text>
<text x="487.1" y="280.3" font-size="25.5" font-weight="bold" fill="#000">.</text>
<text x="502" y="280.3" font-size="25.5" font-weight="bold" fill="#000">c</text>
<text x="523.4" y="280.3" font-size="25.5" font-weight="bold" fill="#000">n</text></g>
</svg>
</body></html>
